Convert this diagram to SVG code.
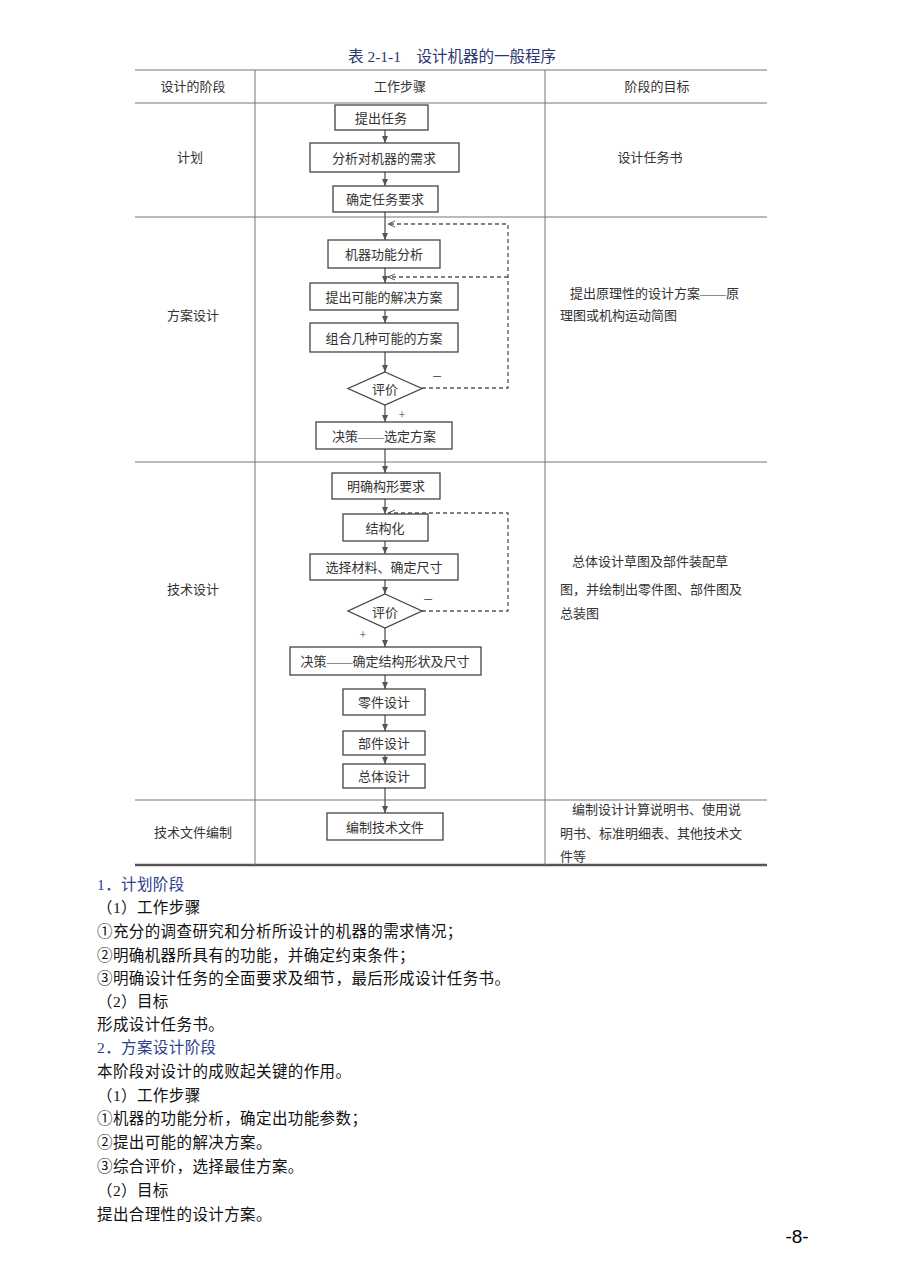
<svg xmlns="http://www.w3.org/2000/svg" width="901" height="1275" viewBox="0 0 901 1275">
<style>
.t{font-family:"Liberation Serif","Noto Sans CJK SC",serif;fill:#333;font-size:13px}
.c{text-anchor:middle;dominant-baseline:central}
.box{fill:#fff;stroke:#444;stroke-width:1.3}
.tl{stroke:#777;stroke-width:1;fill:none}
.ar{stroke:#555;stroke-width:1.3;fill:none}
.da{stroke:#555;stroke-width:1.3;fill:none;stroke-dasharray:4,3}
.b{font-family:"Liberation Serif","Noto Sans CJK SC",serif;fill:#111;font-size:15.5px;letter-spacing:0.4px}
.bl{fill:#2c3e8c}
</style>
<defs>
<marker id="ah" markerWidth="8" markerHeight="8" refX="7" refY="4" orient="auto" markerUnits="userSpaceOnUse">
<path d="M0,1 L7,4 L0,7 Z" fill="#555"/>
</marker>
<marker id="ad" markerWidth="8" markerHeight="8" refX="7" refY="4" orient="auto" markerUnits="userSpaceOnUse">
<path d="M0,1 L7,4 L0,7" fill="none" stroke="#555" stroke-width="1"/>
</marker>
</defs>
<rect width="901" height="1275" fill="#fff"/>
<text class="t c" x="452" y="56" style="font-size:15.5px;fill:#2a3670">表 2-1-1　设计机器的一般程序</text>
<g id="table">
<line class="tl" x1="135" y1="70" x2="767" y2="70"/>
<line class="tl" x1="135" y1="103" x2="767" y2="103"/>
<line class="tl" x1="135" y1="217" x2="767" y2="217"/>
<line class="tl" x1="135" y1="462" x2="767" y2="462"/>
<line class="tl" x1="135" y1="800" x2="767" y2="800"/>
<line x1="135" y1="865" x2="767" y2="865" stroke="#555" stroke-width="2.5"/>
<line class="tl" x1="255" y1="70" x2="255" y2="865"/>
<line class="tl" x1="545" y1="70" x2="545" y2="865"/>
<text class="t c" x="193" y="86">设计的阶段</text>
<text class="t c" x="400" y="86">工作步骤</text>
<text class="t c" x="657" y="86">阶段的目标</text>
<text class="t c" x="190" y="157">计划</text>
<text class="t c" x="650" y="157">设计任务书</text>
<text class="t c" x="193" y="315">方案设计</text>
<text class="t" x="570" y="298">提出原理性的设计方案——原</text>
<text class="t" x="560" y="320">理图或机构运动简图</text>
<text class="t c" x="193" y="589">技术设计</text>
<text class="t" x="572" y="566">总体设计草图及部件装配草</text>
<text class="t" x="560" y="594">图，并绘制出零件图、部件图及</text>
<text class="t" x="560" y="618">总装图</text>
<text class="t c" x="193" y="832">技术文件编制</text>
<text class="t" x="572" y="814">编制设计计算说明书、使用说</text>
<text class="t" x="560" y="838">明书、标准明细表、其他技术文</text>
<text class="t" x="560" y="861">件等</text>
</g>
<g id="connectors">
<line class="ar" x1="385" y1="130" x2="385" y2="143" marker-end="url(#ah)"/>
<line class="ar" x1="385" y1="172" x2="385" y2="186" marker-end="url(#ah)"/>
<line class="ar" x1="385" y1="212" x2="385" y2="240" marker-end="url(#ah)"/>
<line class="ar" x1="385" y1="268" x2="385" y2="283" marker-end="url(#ah)"/>
<line class="ar" x1="385" y1="310" x2="385" y2="323" marker-end="url(#ah)"/>
<line class="ar" x1="385" y1="352" x2="385" y2="372" marker-end="url(#ah)"/>
<line class="ar" x1="385" y1="405" x2="385" y2="422" marker-end="url(#ah)"/>
<line class="ar" x1="385" y1="449" x2="385" y2="473" marker-end="url(#ah)"/>
<line class="ar" x1="385" y1="499" x2="385" y2="514" marker-end="url(#ah)"/>
<line class="ar" x1="385" y1="541" x2="385" y2="554" marker-end="url(#ah)"/>
<line class="ar" x1="385" y1="580" x2="385" y2="594" marker-end="url(#ah)"/>
<line class="ar" x1="385" y1="628" x2="385" y2="647" marker-end="url(#ah)"/>
<line class="ar" x1="385" y1="675" x2="385" y2="689" marker-end="url(#ah)"/>
<line class="ar" x1="385" y1="715" x2="385" y2="731" marker-end="url(#ah)"/>
<line class="ar" x1="385" y1="755" x2="385" y2="764" marker-end="url(#ah)"/>
<line class="ar" x1="385" y1="788" x2="385" y2="813" marker-end="url(#ah)"/>
<path class="da" d="M422,388 H508 V224 H388" marker-end="url(#ad)"/>
<path class="da" d="M508,277 H388" marker-end="url(#ad)"/>
<path class="da" d="M422,611 H508 V513 H388" marker-end="url(#ad)"/>
<text class="t c" x="437" y="376" style="font-size:17px">−</text>
<text class="t c" x="402" y="415" style="font-size:12px">+</text>
<text class="t c" x="428" y="599" style="font-size:17px">−</text>
<text class="t c" x="363" y="635" style="font-size:12px">+</text>
</g>
<g id="n1"><rect class="box" x="335" y="105" width="93" height="25"/><text class="t c" x="381" y="118">提出任务</text></g>
<g id="n2"><rect class="box" x="310" y="143" width="149" height="29"/><text class="t c" x="384" y="158">分析对机器的需求</text></g>
<g id="n3"><rect class="box" x="333" y="186" width="105" height="26"/><text class="t c" x="385" y="199">确定任务要求</text></g>
<g id="n4"><rect class="box" x="328" y="240" width="112" height="28"/><text class="t c" x="384" y="254">机器功能分析</text></g>
<g id="n5"><rect class="box" x="310" y="283" width="148" height="27"/><text class="t c" x="384" y="297">提出可能的解决方案</text></g>
<g id="n6"><rect class="box" x="310" y="323" width="148" height="29"/><text class="t c" x="384" y="338">组合几种可能的方案</text></g>
<g id="n7"><path class="box" d="M385,372 L422,388.5 L385,405 L348,388.5 Z"/><text class="t c" x="385" y="389">评价</text></g>
<g id="n8"><rect class="box" x="316" y="422" width="136" height="27"/><text class="t c" x="384" y="436">决策——选定方案</text></g>
<g id="n9"><rect class="box" x="332" y="473" width="108" height="26"/><text class="t c" x="386" y="486">明确构形要求</text></g>
<g id="n10"><rect class="box" x="343" y="514" width="85" height="27"/><text class="t c" x="385" y="528">结构化</text></g>
<g id="n11"><rect class="box" x="310" y="554" width="148" height="26"/><text class="t c" x="384" y="567">选择材料、确定尺寸</text></g>
<g id="n12"><path class="box" d="M385,594 L422,611 L385,628 L348,611 Z"/><text class="t c" x="385" y="612">评价</text></g>
<g id="n13"><rect class="box" x="290" y="647" width="191" height="28"/><text class="t c" x="385" y="661">决策——确定结构形状及尺寸</text></g>
<g id="n14"><rect class="box" x="343" y="689" width="82" height="26"/><text class="t c" x="384" y="702">零件设计</text></g>
<g id="n15"><rect class="box" x="343" y="731" width="82" height="24"/><text class="t c" x="384" y="743">部件设计</text></g>
<g id="n16"><rect class="box" x="343" y="764" width="82" height="24"/><text class="t c" x="384" y="776">总体设计</text></g>
<g id="n17"><rect class="box" x="327" y="813" width="116" height="27"/><text class="t c" x="385" y="827">编制技术文件</text></g>
<g id="body">
<text class="b bl" x="97" y="890">1．计划阶段</text>
<text class="b" x="97" y="913">（1）工作步骤</text>
<text class="b" x="97" y="937">①充分的调查研究和分析所设计的机器的需求情况；</text>
<text class="b" x="97" y="961">②明确机器所具有的功能，并确定约束条件；</text>
<text class="b" x="97" y="984">③明确设计任务的全面要求及细节，最后形成设计任务书。</text>
<text class="b" x="97" y="1007">（2）目标</text>
<text class="b" x="97" y="1030">形成设计任务书。</text>
<text class="b bl" x="97" y="1053">2．方案设计阶段</text>
<text class="b" x="97" y="1077">本阶段对设计的成败起关键的作用。</text>
<text class="b" x="97" y="1101">（1）工作步骤</text>
<text class="b" x="97" y="1124">①机器的功能分析，确定出功能参数；</text>
<text class="b" x="97" y="1148">②提出可能的解决方案。</text>
<text class="b" x="97" y="1172">③综合评价，选择最佳方案。</text>
<text class="b" x="97" y="1196">（2）目标</text>
<text class="b" x="97" y="1220">提出合理性的设计方案。</text>
<text x="797" y="1243" text-anchor="middle" style="font-family:'Liberation Sans',sans-serif;font-size:19px;fill:#000">-8-</text>
</g>
</svg>
